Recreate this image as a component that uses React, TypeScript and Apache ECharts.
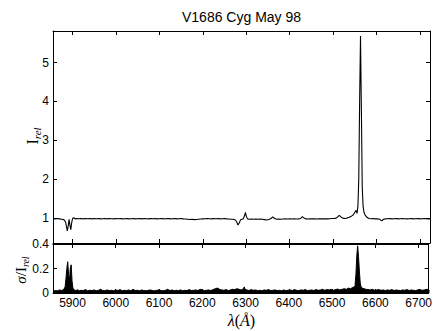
import React, { useEffect, useRef } from "react";
import * as echarts from "echarts";

const title = "V1686 Cyg May 98";
const xTicks = [5900, 6000, 6100, 6200, 6300, 6400, 6500, 6600, 6700];
const topYTicks = [1, 2, 3, 4, 5];
const botYTicks = [0, 0.2, 0.4];

const waveTop = [
  5855, 5860, 5865, 5870, 5875, 5880, 5884, 5886, 5888, 5890, 5892, 5894, 5896, 5898, 5900, 5903,
  5906, 5910, 5915, 5920, 5925, 5930, 5935, 5940, 5945, 5950, 5955, 5960, 5965, 5970, 5975, 5980,
  5985, 5990, 5995, 6000, 6005, 6010, 6015, 6020, 6025, 6030, 6035, 6040, 6045, 6050, 6055, 6060,
  6065, 6070, 6075, 6080, 6085, 6090, 6095, 6100, 6105, 6110, 6115, 6120, 6125, 6130, 6135, 6140,
  6145, 6150, 6155, 6160, 6165, 6170, 6175, 6180, 6185, 6190, 6195, 6200, 6205, 6210, 6215, 6220,
  6225, 6230, 6235, 6240, 6245, 6250, 6255, 6260, 6265, 6270, 6275, 6278, 6281, 6284, 6287, 6290,
  6293, 6296, 6298, 6300, 6303, 6307, 6312, 6317, 6322, 6327, 6332, 6337, 6342, 6347, 6352, 6357,
  6361, 6365, 6370, 6375, 6380, 6385, 6390, 6395, 6400, 6405, 6410, 6415, 6420, 6425, 6429, 6433,
  6437, 6442, 6447, 6452, 6457, 6462, 6467, 6472, 6477, 6482, 6487, 6492, 6497, 6502, 6507, 6511,
  6514, 6518, 6522, 6527, 6532, 6537, 6542, 6546, 6550, 6553, 6555, 6557, 6559, 6561, 6563, 6565,
  6567, 6569, 6571, 6574, 6578, 6582, 6587, 6592, 6597, 6602, 6607, 6612, 6616, 6620, 6625, 6630,
  6635, 6640, 6645, 6650, 6655, 6660, 6665, 6670, 6675, 6680, 6685, 6690, 6695, 6700, 6705, 6710,
  6715, 6720, 6725,
];
const fluxTop = [
  0.99, 0.98, 0.99, 0.98, 0.97, 0.96, 0.9, 0.78, 0.67, 0.8, 0.97, 0.82, 0.7, 0.88, 0.99, 1.01,
  0.98, 0.99, 0.985, 0.99, 0.98, 0.99, 0.985, 0.99, 0.98, 0.99, 0.985, 0.99, 0.98, 0.985, 0.99, 0.98,
  0.99, 0.985, 0.98, 0.99, 0.985, 0.99, 0.98, 0.985, 0.99, 0.98, 0.985, 0.99, 0.98, 0.985, 0.99, 0.98,
  0.99, 0.985, 0.98, 0.99, 0.985, 0.99, 0.98, 0.985, 0.99, 0.98, 0.985, 0.99, 0.98, 0.985, 0.99, 0.98,
  0.985, 0.99, 0.98, 0.975, 0.97, 0.965, 0.97, 0.96, 0.965, 0.97, 0.975, 0.98, 0.985, 0.99, 0.985, 0.98,
  0.99, 0.985, 0.99, 0.98, 0.985, 0.99, 0.98, 0.975, 0.97, 0.97, 0.95, 0.9, 0.82, 0.88, 0.96, 0.97,
  0.98, 1.06, 1.15, 1.05, 0.98, 0.97, 0.975, 0.97, 0.975, 0.97, 0.975, 0.97, 0.96, 0.95, 0.965, 0.99,
  1.03, 0.99, 0.97, 0.975, 0.97, 0.975, 0.98, 0.975, 0.98, 0.975, 0.98, 0.975, 0.98, 0.99, 1.04, 1.0,
  0.98, 0.975, 0.98, 0.985, 0.98, 0.975, 0.98, 0.985, 0.98, 0.985, 0.98, 0.985, 0.99, 0.99, 1.0, 1.04,
  1.07, 1.03, 1.0, 0.99, 1.0, 1.02, 1.05, 1.08, 1.15, 1.2, 1.12, 1.3, 2.0, 4.0, 5.68, 3.8,
  1.8, 1.3, 1.15, 1.07, 1.02, 0.99, 0.985, 0.99, 0.98, 0.985, 0.97, 0.93, 0.97, 0.98, 0.985, 0.99,
  0.98, 0.985, 0.99, 0.98, 0.985, 0.99, 0.985, 0.98, 0.985, 0.99, 0.98, 0.985, 0.99, 0.98, 0.985, 0.99,
  0.985, 0.98, 0.985,
];

const waveSig = [
  5855, 5860, 5865, 5870, 5875, 5880, 5883, 5885, 5887, 5889, 5891, 5893, 5895, 5897, 5899, 5901,
  5904, 5908, 5912, 5916, 5920, 5925, 5930, 5935, 5940, 5945, 5950, 5955, 5960, 5965, 5970, 5975,
  5980, 5985, 5990, 5995, 6000, 6005, 6010, 6015, 6020, 6025, 6030, 6035, 6040, 6045, 6050, 6055,
  6060, 6065, 6070, 6075, 6080, 6085, 6090, 6095, 6100, 6105, 6110, 6115, 6120, 6125, 6130, 6135,
  6140, 6145, 6150, 6155, 6160, 6165, 6170, 6175, 6180, 6185, 6190, 6195, 6200, 6205, 6210, 6215,
  6220, 6225, 6230, 6235, 6240, 6245, 6250, 6255, 6260, 6265, 6270, 6275, 6280, 6285, 6290, 6295,
  6297, 6299, 6303, 6308, 6313, 6318, 6323, 6328, 6333, 6338, 6343, 6348, 6353, 6358, 6363, 6368,
  6373, 6378, 6383, 6388, 6393, 6398, 6403, 6408, 6413, 6418, 6423, 6428, 6433, 6438, 6443, 6448,
  6453, 6458, 6463, 6468, 6473, 6478, 6483, 6488, 6493, 6498, 6503, 6508, 6513, 6518, 6523, 6528,
  6533, 6538, 6543, 6547, 6551, 6553, 6555, 6557, 6559, 6561, 6563, 6565, 6567, 6570, 6574, 6578,
  6583, 6588, 6593, 6598, 6603, 6608, 6613, 6618, 6623, 6628, 6633, 6638, 6643, 6648, 6653, 6658,
  6663, 6668, 6673, 6678, 6683, 6688, 6693, 6698, 6703, 6708, 6713, 6718, 6723, 6725,
];
const sigma = [
  0.015, 0.02, 0.018, 0.025, 0.02, 0.03, 0.05, 0.12, 0.2, 0.255, 0.15, 0.1, 0.2, 0.23, 0.1, 0.04,
  0.025, 0.02, 0.026, 0.018, 0.022, 0.02, 0.028, 0.018, 0.022, 0.02, 0.025, 0.018, 0.022, 0.03, 0.02, 0.018,
  0.025, 0.02, 0.022, 0.018, 0.025, 0.02, 0.028, 0.018, 0.022, 0.02, 0.025, 0.018, 0.03, 0.02, 0.022, 0.018,
  0.025, 0.02, 0.018, 0.022, 0.025, 0.02, 0.018, 0.022, 0.025, 0.02, 0.018, 0.022, 0.03, 0.02, 0.025, 0.018,
  0.022, 0.02, 0.025, 0.018, 0.022, 0.02, 0.028, 0.02, 0.022, 0.025, 0.02, 0.03, 0.025, 0.02, 0.022, 0.025,
  0.02, 0.028, 0.035, 0.04, 0.03, 0.025, 0.022, 0.028, 0.02, 0.025, 0.03, 0.028, 0.035, 0.03, 0.025, 0.035,
  0.05, 0.03, 0.025, 0.02, 0.028, 0.022, 0.025, 0.02, 0.022, 0.018, 0.025, 0.022, 0.028, 0.02, 0.022, 0.025,
  0.02, 0.022, 0.018, 0.025, 0.02, 0.022, 0.025, 0.02, 0.028, 0.022, 0.02, 0.025, 0.022, 0.028, 0.02, 0.022,
  0.025, 0.02, 0.028, 0.022, 0.025, 0.03, 0.022, 0.028, 0.025, 0.03, 0.022, 0.028, 0.032, 0.025, 0.03, 0.035,
  0.03, 0.04, 0.035, 0.045, 0.05, 0.06, 0.15, 0.3, 0.385, 0.3, 0.18, 0.08, 0.05, 0.04, 0.035, 0.03,
  0.028, 0.025, 0.03, 0.022, 0.025, 0.028, 0.022, 0.025, 0.02, 0.025, 0.022, 0.028, 0.02, 0.025, 0.022, 0.02,
  0.025, 0.022, 0.028, 0.02, 0.025, 0.022, 0.02, 0.025, 0.028, 0.022, 0.025, 0.03, 0.025, 0.02,
];

const SANS = "'Liberation Sans', Arial, Helvetica, sans-serif";
const SERIF = "'Liberation Serif', 'Times New Roman', serif";

const X_MIN = 5855;
const X_MAX = 6723;

function xAxisDef(gridIndex: number, position: string, showLabels: boolean) {
  return {
    type: "value",
    gridIndex,
    position,
    min: X_MIN,
    max: X_MAX,
    axisLine: { show: true, onZero: false, lineStyle: { color: "#000", width: 1 } },
    axisTick: { show: true, inside: true, length: 4, customValues: xTicks, lineStyle: { color: "#000", width: 1 } },
    axisLabel: {
      show: showLabels,
      customValues: xTicks,
      color: "#000",
      fontSize: 12,
      fontFamily: SANS,
      margin: 4,
      formatter: (v: number) => String(v),
    },
    splitLine: { show: false },
  };
}

function yAxisDef(gridIndex: number, position: string, showLabels: boolean, min: number, max: number, ticks: number[]) {
  return {
    type: "value",
    gridIndex,
    position,
    min,
    max,
    axisLine: { show: true, onZero: false, lineStyle: { color: "#000", width: 1 } },
    axisTick: { show: true, inside: true, length: 4, customValues: ticks, lineStyle: { color: "#000", width: 1 } },
    axisLabel: {
      show: showLabels,
      customValues: ticks,
      color: "#000",
      fontSize: 12,
      fontFamily: SANS,
      margin: 4,
      formatter: (v: number) => String(v),
    },
    splitLine: { show: false },
  };
}

export default function App() {
  const ref = useRef<HTMLDivElement>(null);
  useEffect(() => {
    if (!ref.current) return;
    const chart = echarts.init(ref.current, null, { renderer: "svg" });
    const topData = waveTop.map((w, i) => [w, fluxTop[i]]);
    const sigData = waveSig.map((w, i) => [w, sigma[i]]);
    chart.setOption({
      animation: false,
      backgroundColor: "#fff",
      grid: [
        { left: 53, top: 31, width: 377, height: 212 },
        { left: 53, top: 244, width: 377, height: 49 },
      ],
      xAxis: [
        xAxisDef(0, "bottom", false),
        xAxisDef(0, "top", false),
        xAxisDef(1, "bottom", true),
        xAxisDef(1, "top", false),
      ],
      yAxis: [
        yAxisDef(0, "left", true, 0.36, 5.81, topYTicks),
        yAxisDef(0, "right", false, 0.36, 5.81, topYTicks),
        yAxisDef(1, "left", true, 0, 0.4, botYTicks),
        yAxisDef(1, "right", false, 0, 0.4, botYTicks),
      ],
      series: [
        {
          type: "line",
          xAxisIndex: 0,
          yAxisIndex: 0,
          data: topData,
          showSymbol: false,
          symbol: "none",
          lineStyle: { color: "#000", width: 1.1 },
        },
        {
          type: "line",
          xAxisIndex: 2,
          yAxisIndex: 2,
          data: sigData,
          showSymbol: false,
          symbol: "none",
          lineStyle: { color: "#000", width: 1 },
          areaStyle: { color: "#000", opacity: 1 },
        },
      ],
      graphic: [
        {
          type: "text",
          x: 241.5,
          y: 17,
          style: {
            text: title,
            fill: "#000",
            font: `14px ${SANS}`,
            textAlign: "center",
            textVerticalAlign: "middle",
          },
        },
        {
          type: "text",
          x: 32,
          y: 136,
          rotation: Math.PI / 2,
          style: {
            text: "{i|I}{s|rel}",
            fill: "#000",
            textAlign: "center",
            textVerticalAlign: "middle",
            rich: {
              i: { fontFamily: SERIF, fontSize: 16, lineHeight: 20, verticalAlign: "middle" },
              s: { fontFamily: SERIF, fontSize: 11, fontStyle: "italic", lineHeight: 10, verticalAlign: "bottom" },
            },
          },
        },
        {
          type: "text",
          x: 21,
          y: 270,
          rotation: Math.PI / 2,
          style: {
            text: "{g|σ}{i|/I}{s|rel}",
            fill: "#000",
            textAlign: "center",
            textVerticalAlign: "middle",
            rich: {
              g: { fontFamily: SERIF, fontSize: 15, fontStyle: "italic", lineHeight: 18, verticalAlign: "middle" },
              i: { fontFamily: SERIF, fontSize: 15, lineHeight: 18, verticalAlign: "middle" },
              s: { fontFamily: SERIF, fontSize: 10, fontStyle: "italic", lineHeight: 9, verticalAlign: "bottom" },
            },
          },
        },
        {
          type: "text",
          x: 241.5,
          y: 320,
          style: {
            text: "{it|λ}{n|(}{it|Å}{n|)}",
            fill: "#000",
            textAlign: "center",
            textVerticalAlign: "middle",
            rich: {
              it: { fontFamily: SERIF, fontSize: 16, fontStyle: "italic" },
              n: { fontFamily: SERIF, fontSize: 16 },
            },
          },
        },
      ],
    });
    return () => chart.dispose();
  }, []);
  return (
    <div
      ref={ref}
      style={{ position: "absolute", left: 0, top: 0, width: 435, height: 331, background: "#fff" }}
    />
  );
}
